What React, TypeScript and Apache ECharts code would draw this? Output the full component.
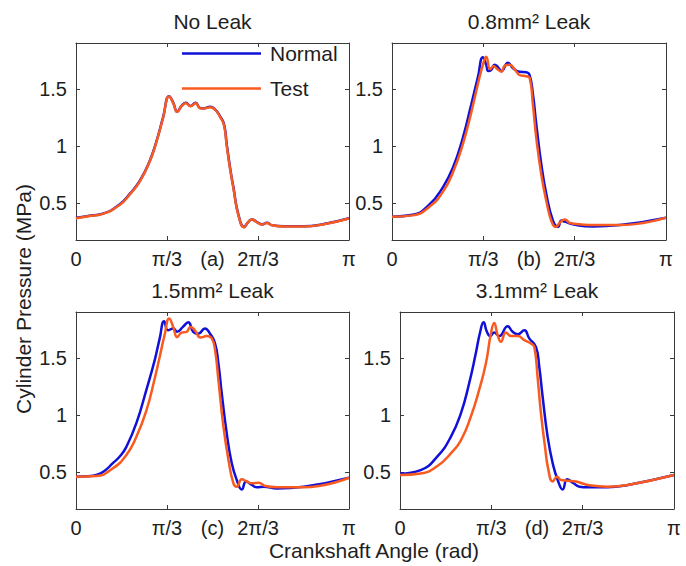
import React, { useEffect, useRef } from "react";
import * as echarts from "echarts";

// ---- text ----
const panelTitles = ["No Leak", "0.8mm² Leak", "1.5mm² Leak", "3.1mm² Leak"];
const panelLetters = ["(a)", "(b)", "(c)", "(d)"];
const seriesNames = ["Normal", "Test"];
const xAxisTitle = "Crankshaft Angle (rad)";
const yAxisTitle = "Cylinder Pressure (MPa)";
// x in degrees of crank angle: 0..180 == 0..π
const xTickValues = [0, 60, 120, 180];
const xTickLabels = ["0", "π/3", "2π/3", "π"];
const yTickValues = [0.5, 1, 1.5];
const yTickLabels = ["0.5", "1", "1.5"];

// ---- (a) No leak ----
const aAngle = [0, 8, 17.7, 28.7, 35.3, 42, 48.6, 53, 57.4, 61.4, 64.1, 66.7, 69.6, 72.5, 75.5, 78.9, 81.7, 83.9, 88.4, 91.7, 95, 97.6, 99.4, 101.6, 103.8, 107.1, 110.9, 113.1, 116, 119.3, 122.6, 125.9, 129.2, 137, 150.2, 163.5, 180];
const aNormal = [0.375, 0.39, 0.41, 0.49, 0.58, 0.695, 0.87, 1.04, 1.25, 1.436, 1.38, 1.3, 1.35, 1.378, 1.35, 1.378, 1.334, 1.33, 1.343, 1.32, 1.26, 1.19, 1.015, 0.81, 0.64, 0.4, 0.294, 0.33, 0.36, 0.337, 0.317, 0.33, 0.31, 0.3, 0.3, 0.32, 0.37];
const aTest = [0.37, 0.388, 0.408, 0.485, 0.575, 0.69, 0.865, 1.035, 1.245, 1.432, 1.375, 1.298, 1.348, 1.375, 1.348, 1.375, 1.33, 1.328, 1.34, 1.318, 1.255, 1.18, 1.0, 0.8, 0.63, 0.395, 0.29, 0.33, 0.358, 0.335, 0.315, 0.328, 0.308, 0.298, 0.298, 0.318, 0.368];

// ---- (b) 0.8 mm² leak ----
const bNormalAngle = [0, 13.6, 24.6, 33.4, 40, 46.5, 52, 56.4, 59.7, 61.9, 63.2, 65.2, 67.4, 69.6, 71.8, 76.2, 79.5, 83.9, 88.2, 90.4, 92.6, 94.8, 98.1, 101.4, 105.8, 109.1, 111.3, 113.5, 121.2, 132.1, 149.7, 180];
const bNormal = [0.384, 0.4, 0.49, 0.64, 0.81, 1.07, 1.36, 1.6, 1.775, 1.71, 1.655, 1.665, 1.71, 1.69, 1.655, 1.727, 1.68, 1.648, 1.645, 1.62, 1.45, 1.19, 0.84, 0.58, 0.346, 0.294, 0.35, 0.34, 0.31, 0.297, 0.31, 0.375];
const bTestAngle = [0, 13.6, 24.6, 33.4, 40, 46.5, 52, 56.4, 59.7, 61.9, 64.5, 66.7, 68.9, 71.8, 74, 77.3, 80.6, 83.9, 88.2, 90.4, 92.6, 94.8, 98.1, 101.4, 104.7, 107.6, 110.2, 113.5, 116.8, 121.2, 132.1, 149.7, 180];
const bTest = [0.384, 0.395, 0.47, 0.6, 0.77, 1.015, 1.29, 1.54, 1.71, 1.78, 1.67, 1.7, 1.675, 1.65, 1.7, 1.71, 1.67, 1.62, 1.61, 1.596, 1.36, 1.07, 0.75, 0.52, 0.346, 0.294, 0.33, 0.36, 0.33, 0.32, 0.31, 0.31, 0.375];

// ---- (c) 1.5 mm² leak ----
const cNormalAngle = [0, 8, 13.3, 18.5, 24.3, 29, 33.1, 39.8, 46.4, 51.9, 55.2, 58.1, 60.7, 64.1, 66.7, 70.5, 74, 77.3, 80.6, 85, 88.4, 91.7, 93.9, 96.1, 99.4, 102.7, 106, 109.3, 112.2, 116, 119.3, 123.7, 132.5, 150.2, 180];
const cNormal = [0.462, 0.466, 0.477, 0.51, 0.58, 0.64, 0.72, 0.93, 1.22, 1.48, 1.67, 1.82, 1.74, 1.756, 1.727, 1.77, 1.81, 1.727, 1.71, 1.756, 1.71, 1.625, 1.45, 1.19, 0.84, 0.58, 0.433, 0.35, 0.42, 0.39, 0.37, 0.375, 0.36, 0.375, 0.453];
const cTestAngle = [0, 13.3, 24.3, 33.1, 39.8, 46.4, 51.9, 55.2, 58.6, 61.4, 64.1, 66.7, 69.6, 72.9, 75.5, 78.4, 82.2, 86.2, 89.5, 91.7, 93.9, 97.2, 100.5, 103.8, 106, 109.3, 112.7, 116, 120.4, 124.8, 132.5, 150.2, 180];
const cTest = [0.462, 0.468, 0.535, 0.65, 0.81, 1.04, 1.32, 1.51, 1.71, 1.843, 1.77, 1.68, 1.72, 1.727, 1.77, 1.74, 1.677, 1.69, 1.67, 1.567, 1.305, 0.9, 0.61, 0.404, 0.375, 0.44, 0.42, 0.404, 0.41, 0.38, 0.37, 0.37, 0.453];

// ---- (d) 3.1 mm² leak ----
const dNormalAngle = [0, 13.6, 24.6, 33.4, 40, 45.4, 49.8, 52.7, 54.9, 57.1, 59.3, 61.9, 65.2, 70.7, 74, 77.3, 81.7, 84.9, 89.3, 91.5, 93.7, 97, 100.3, 103.6, 106.9, 109.8, 113.5, 117.9, 123.4, 136.5, 149.7, 180];
const dNormal = [0.49, 0.52, 0.64, 0.81, 1.015, 1.276, 1.54, 1.727, 1.81, 1.727, 1.69, 1.72, 1.69, 1.776, 1.727, 1.706, 1.74, 1.67, 1.596, 1.42, 1.16, 0.81, 0.58, 0.433, 0.35, 0.44, 0.41, 0.375, 0.37, 0.37, 0.39, 0.477];
const dTestAngle = [0, 13.6, 24.6, 33.4, 40, 46.5, 52, 56.4, 59.7, 61.9, 64.1, 66.3, 69.6, 72.9, 77.3, 81.7, 86, 88.2, 90.4, 92.6, 95.3, 97.5, 100.3, 103.2, 105.8, 110.2, 115.7, 123.4, 136.5, 149.7, 180];
const dTest = [0.477, 0.49, 0.555, 0.666, 0.78, 0.985, 1.22, 1.45, 1.71, 1.805, 1.7, 1.64, 1.72, 1.69, 1.69, 1.654, 1.625, 1.596, 1.33, 1.015, 0.72, 0.52, 0.42, 0.462, 0.433, 0.427, 0.42, 0.39, 0.375, 0.39, 0.477];

const panels = [
  { normalX: aAngle, normalY: aNormal, testX: aAngle, testY: aTest },
  { normalX: bNormalAngle, normalY: bNormal, testX: bTestAngle, testY: bTest },
  { normalX: cNormalAngle, normalY: cNormal, testX: cTestAngle, testY: cTest },
  { normalX: dNormalAngle, normalY: dNormal, testX: dTestAngle, testY: dTest },
];

// ---- layout / style ----
const W = 686;
const H = 566;
const GRIDS = [
  { left: 76, top: 43, width: 273, height: 197 },
  { left: 392, top: 43, width: 274, height: 197 },
  { left: 76, top: 312, width: 273, height: 197 },
  { left: 400, top: 312, width: 274, height: 197 },
];
const Y_MIN = 0.18;
const Y_MAX = 1.9;
const FONT = '"Liberation Sans", Arial, Helvetica, sans-serif';
const FS = 20;
const FS_BIG = 21;
const TEXT_COLOR = "#1e1e1e";
const BOX_COLOR = "#3a3a3a";
const BLUE = "#1010d8";
const ORANGE = "#f85a20";

const zip = (xs: number[], ys: number[]) => xs.map((x, i) => [x, ys[i]]);

function buildOption() {
  const grid: any[] = [];
  const xAxis: any[] = [];
  const yAxis: any[] = [];
  const series: any[] = [];
  const graphic: any[] = [];

  const tickStyle = { show: true, inside: true, length: 4, lineStyle: { color: BOX_COLOR, width: 1 } };
  const lineStyle = { show: true, onZero: false, lineStyle: { color: BOX_COLOR, width: 1 } };

  GRIDS.forEach((g, i) => {
    grid.push({ ...g, containLabel: false });
    xAxis.push({
      gridIndex: i, type: "value", position: "bottom", min: 0, max: 180, interval: 60,
      axisLine: lineStyle, axisTick: tickStyle, splitLine: { show: false },
      axisLabel: {
        show: true, margin: 9, fontSize: FS, fontFamily: FONT, color: TEXT_COLOR,
        formatter: (v: number) => xTickLabels[xTickValues.indexOf(Math.round(v))] ?? "",
      },
    });
    xAxis.push({
      gridIndex: i, type: "value", position: "top", min: 0, max: 180, interval: 60,
      axisLine: lineStyle, axisTick: tickStyle, splitLine: { show: false }, axisLabel: { show: false },
    });
    yAxis.push({
      gridIndex: i, type: "value", position: "left", min: Y_MIN, max: Y_MAX,
      axisLine: lineStyle,
      axisTick: { ...tickStyle, customValues: yTickValues },
      splitLine: { show: false },
      axisLabel: {
        show: true, margin: 9, fontSize: FS, fontFamily: FONT, color: TEXT_COLOR,
        customValues: yTickValues,
        formatter: (v: number) => {
          const k = yTickValues.findIndex((t) => Math.abs(t - v) < 1e-6);
          return k >= 0 ? yTickLabels[k] : "";
        },
      },
    });
    yAxis.push({
      gridIndex: i, type: "value", position: "right", min: Y_MIN, max: Y_MAX,
      axisLine: lineStyle,
      axisTick: { ...tickStyle, customValues: yTickValues },
      splitLine: { show: false }, axisLabel: { show: false },
    });

    const p = panels[i];
    series.push({
      name: seriesNames[0], type: "line", xAxisIndex: 2 * i, yAxisIndex: 2 * i,
      data: zip(p.normalX, p.normalY), symbol: "none", showSymbol: false, smooth: 0.5,
      lineStyle: { color: BLUE, width: 2.5 }, itemStyle: { color: BLUE }, z: 2,
    });
    series.push({
      name: seriesNames[1], type: "line", xAxisIndex: 2 * i, yAxisIndex: 2 * i,
      data: zip(p.testX, p.testY), symbol: "none", showSymbol: false, smooth: 0.5,
      lineStyle: { color: ORANGE, width: 2.5 }, itemStyle: { color: ORANGE }, z: 3,
    });

    const cx = g.left + g.width / 2;
    graphic.push({
      type: "text", x: cx, y: g.top - 22,
      style: { text: panelTitles[i], fontSize: FS_BIG, fontFamily: FONT, fill: TEXT_COLOR, align: "center", verticalAlign: "middle" },
    });
    graphic.push({
      type: "text", x: cx, y: g.top + g.height + 19,
      style: { text: panelLetters[i], fontSize: FS, fontFamily: FONT, fill: TEXT_COLOR, align: "center", verticalAlign: "middle" },
    });
  });

  graphic.push({
    type: "text", x: 374, y: 550,
    style: { text: xAxisTitle, fontSize: FS_BIG, fontFamily: FONT, fill: TEXT_COLOR, align: "center", verticalAlign: "middle" },
  });
  graphic.push({
    type: "text", x: 23, y: 299, rotation: Math.PI / 2,
    style: { text: yAxisTitle, fontSize: FS_BIG, fontFamily: FONT, fill: TEXT_COLOR, align: "center", verticalAlign: "middle" },
  });

  return {
    animation: false,
    backgroundColor: "#ffffff",
    grid, xAxis, yAxis, series, graphic,
    legend: {
      show: true, orient: "vertical", left: 182, top: 43, selectedMode: false,
      icon: "rect", itemWidth: 79, itemHeight: 2.5, itemGap: 14, padding: 0,
      data: seriesNames,
      textStyle: { fontSize: FS_BIG, fontFamily: FONT, color: TEXT_COLOR, padding: [0, 0, 0, 4], lineHeight: 21 },
    },
  };
}

export default function App() {
  const ref = useRef<HTMLDivElement>(null);
  useEffect(() => {
    if (!ref.current) return;
    const chart = echarts.init(ref.current, undefined, { renderer: "svg" });
    chart.setOption(buildOption() as any);
    return () => chart.dispose();
  }, []);
  return (
    <div
      ref={ref}
      style={{ position: "fixed", left: 0, top: 0, width: W, height: H, background: "#fff" }}
    />
  );
}
